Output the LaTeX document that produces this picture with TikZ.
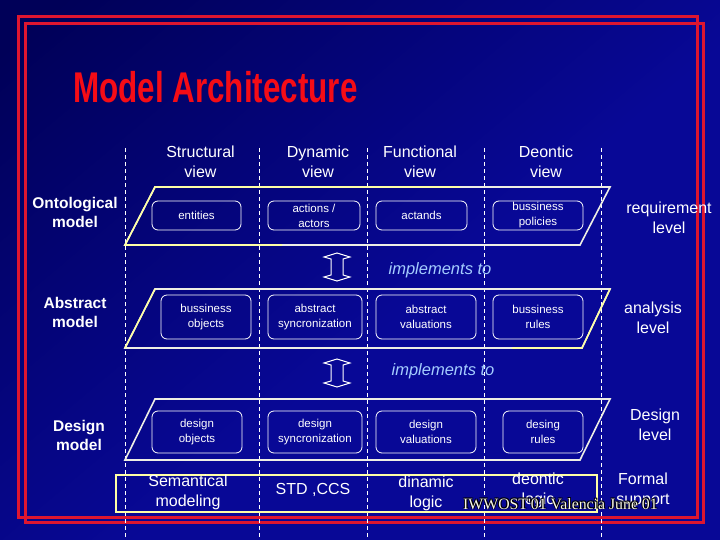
\documentclass[tikz,border=0pt]{standalone}
\usepackage{fontspec}
\setmainfont{Liberation Sans}
\newfontfamily\serifft{Liberation Serif}
\usepackage{graphicx}
\definecolor{bgdark}{RGB}{0,0,88}
\definecolor{bgblue}{RGB}{8,8,150}
\definecolor{framered}{RGB}{222,22,48}
\definecolor{titlered}{RGB}{245,12,22}
\definecolor{paleyel}{RGB}{255,255,165}
\definecolor{palewhite}{RGB}{238,238,228}
\definecolor{impblue}{RGB}{165,205,255}
\definecolor{cream}{RGB}{248,246,232}
\pgfdeclareverticalshading{bgshade}{100bp}{color(0bp)=(bgblue); color(45bp)=(bgblue); color(82bp)=(bgdark); color(100bp)=(bgdark)}
\tikzset{
  hdr/.style={text=white, font=\fontsize{16}{20}\selectfont, align=center, inner sep=0pt},
  rowlab/.style={text=white, font=\bfseries\fontsize{15.5}{19}\selectfont, align=center, inner sep=0pt},
  vbox/.style={draw=white, line width=0.8pt, rounded corners=6pt, text=white,
    font=\fontsize{11.5}{15}\selectfont, align=center, inner sep=0pt},
  impl/.style={text=impblue, font=\itshape\fontsize{16.5}{20}\selectfont, inner sep=0pt},
  para/.style={draw=palewhite, line width=1.6pt, line join=miter},
  yel/.style={draw=paleyel, line width=1.6pt},
  dashline/.style={draw=white, line width=0.8pt, dash pattern=on 4pt off 3pt},
  frame/.style={draw=framered, line width=3pt},
  hollowarrow/.style={draw=white, line width=1pt, line join=miter},
  foot/.style={font=\serifft\fontsize{15.8}{18}\selectfont, inner sep=0pt, anchor=base west}
}
\begin{document}
\begin{tikzpicture}[x=1pt,y=-1pt]
\useasboundingbox (0,0) rectangle (720,540);
\shade[shading=bgshade, shading angle=40] (0,0) rectangle (720,540);

% red frames
\draw[frame] (18,17) rectangle (697,517);
\draw[frame] (25,24) rectangle (703,522);

% title
\node[anchor=base west, text=titlered, inner sep=0pt] (title) at (73,103)
  {\scalebox{0.73}[1]{\fontsize{43}{43}\selectfont\bfseries Model Architecture}};

% dashed column separators
\foreach \xx in {125,259,367,484,601} \draw[dashline] (\xx,148) -- (\xx,540);

% column headers
\node[hdr] (hs) at (200.5,162) {Structural\\view};
\node[hdr] (hd) at (318,162) {Dynamic\\view};
\node[hdr] (hf) at (420,162) {Functional\\view};
\node[hdr] (ho) at (546,162) {Deontic\\view};

% row labels
\node[rowlab] (ro) at (75,212) {Ontological\\model};
\node[rowlab] (ra) at (75,312) {Abstract\\model};
\node[rowlab] (rd) at (79,435) {Design\\model};

% level labels
\node[hdr] (lr) at (669,218) {requirement\\level};
\node[hdr] (la) at (653,318) {analysis\\level};
\node[hdr] (ld) at (655,425) {Design\\level};

% parallelograms
\draw[para] (155,187) -- (610,187) -- (580,245) -- (125,245) -- cycle;
\draw[yel] (282,245) -- (125,245) -- (155,187) -- (460,187);
\draw[para] (155,289) -- (610,289) -- (582,348) -- (125,348) -- cycle;
\draw[yel] (125,348) -- (155,289);
\draw[yel] (512,348) -- (582,348) -- (610,289);
\draw[para] (155,399) -- (610,399) -- (580,460) -- (125,460) -- cycle;

% row 1 boxes
\node[vbox, minimum width=89pt, minimum height=29pt] (b11) at (196.5,215.5) {entities};
\node[vbox, minimum width=92pt, minimum height=29pt] (b12) at (314,215.5) {actions /\\actors};
\node[vbox, minimum width=91pt, minimum height=29pt] (b13) at (421.5,215.5) {actands};
\node[vbox, minimum width=90pt, minimum height=29pt] (b14) at (538,215.5) {bussiness\\policies};

% row 2 boxes
\node[vbox, minimum width=90pt, minimum height=44pt] (b21) at (206,317) {bussiness\\objects};
\node[vbox, minimum width=94pt, minimum height=44pt] (b22) at (315,317) {abstract\\syncronization};
\node[vbox, minimum width=100pt, minimum height=44pt] (b23) at (426,317) {abstract\\valuations};
\node[vbox, minimum width=90pt, minimum height=44pt] (b24) at (538,317) {bussiness\\rules};

% row 3 boxes
\node[vbox, minimum width=90pt, minimum height=42pt] (b31) at (197,432) {design\\objects};
\node[vbox, minimum width=94pt, minimum height=42pt] (b32) at (315,432) {design\\syncronization};
\node[vbox, minimum width=100pt, minimum height=42pt] (b33) at (426,432) {design\\valuations};
\node[vbox, minimum width=80pt, minimum height=42pt] (b34) at (543,432) {desing\\rules};

% implements arrows
\draw[hollowarrow] (337,253) -- (350,257) -- (343,259) -- (343,275) -- (350,277) -- (337,281)
  -- (324,277) -- (331,275) -- (331,259) -- (324,257) -- cycle;
\draw[hollowarrow] (337,359) -- (350,363) -- (343,365) -- (343,381) -- (350,383) -- (337,387)
  -- (324,383) -- (331,381) -- (331,365) -- (324,363) -- cycle;
\node[impl] (im1) at (440,270) {implements to};
\node[impl] (im2) at (443,371) {implements to};

% formal support row
\draw[draw=paleyel, line width=1.8pt] (116,475) rectangle (597,512);
\node[hdr] (fs1) at (188,492.5) {Semantical\\modeling};
\node[hdr] (fs2) at (313,490) {STD ,CCS};
\node[hdr] (fs3) at (426,493) {dinamic\\logic};
\node[hdr] (fs4) at (538,490) {deontic\\logic};
\node[hdr] (fs5) at (643,490.5) {Formal\\support};

% footer (embossed)
\node[foot, text=black] (ft1) at (462.2,509.8) {IWWOST'01 Valencia June 01};
\node[foot, text=black] (ft2) at (463.8,508.2) {IWWOST'01 Valencia June 01};
\node[foot, text=black] (ft3) at (462.2,508.2) {IWWOST'01 Valencia June 01};
\node[foot, text=black] (ft4) at (463.8,509.8) {IWWOST'01 Valencia June 01};
\node[foot, text=cream] (ft) at (463,509) {IWWOST'01 Valencia June 01};
\end{tikzpicture}
\end{document}
